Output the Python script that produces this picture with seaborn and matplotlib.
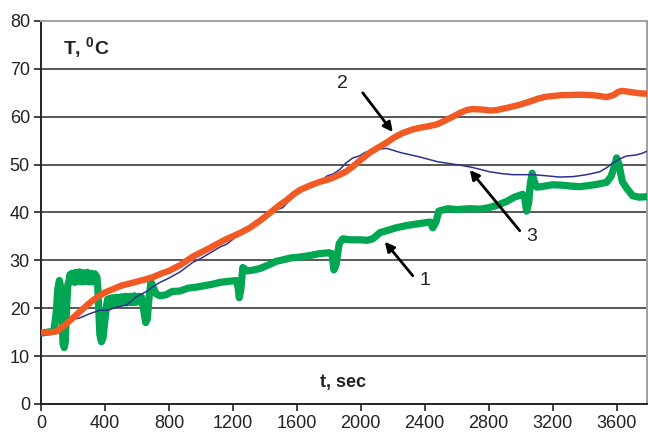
import numpy as np
import pandas as pd
import seaborn as sns
import matplotlib
matplotlib.use("Agg")
import matplotlib.pyplot as plt

# Curve 2: reactor wall temperature
t2 = [0, 60, 100, 150, 200, 250, 300, 350, 400, 450, 500, 570, 650, 700, 756, 800,
      870, 950, 1050, 1150, 1244, 1306, 1370, 1431, 1490, 1537, 1580, 1619, 1680,
      1744, 1806, 1869, 1910, 1950, 2000, 2056, 2110, 2162, 2210, 2262, 2320, 2369,
      2420, 2475, 2520, 2575, 2620, 2662, 2700, 2762, 2810, 2850, 2920, 2994, 3060,
      3110, 3162, 3250, 3369, 3450, 3500, 3537, 3580, 3610, 3637, 3680, 3740, 3790]
T2 = [15.0, 15.0, 15.2, 16.5, 18.0, 19.5, 21.0, 22.3, 23.3, 24.0, 24.7, 25.3, 26.0,
      26.5, 27.3, 27.8, 29.0, 30.8, 32.5, 34.3, 35.7, 36.8, 38.3, 39.9, 41.5, 42.6,
      43.8, 44.7, 45.6, 46.4, 47.0, 47.9, 48.6, 49.6, 51.0, 52.5, 53.6, 54.6, 55.7,
      56.6, 57.3, 57.7, 58.0, 58.4, 59.1, 60.0, 60.8, 61.4, 61.6, 61.5, 61.3, 61.4,
      61.9, 62.5, 63.2, 63.8, 64.2, 64.5, 64.6, 64.5, 64.3, 64.1, 64.5, 65.2, 65.4,
      65.2, 64.9, 64.8]

# Curve 3: gas temperature
t3 = [0, 80, 120, 180, 244, 300, 369, 420, 480, 537, 600, 660, 700, 744, 800, 870,
      950, 994, 1060, 1120, 1162, 1230, 1306, 1370, 1430, 1470, 1512, 1560, 1619,
      1680, 1744, 1787, 1830, 1869, 1910, 1950, 1990, 2030, 2100, 2162, 2250, 2369,
      2480, 2619, 2700, 2806, 2887, 2950, 3075, 3150, 3244, 3330, 3412, 3494, 3540,
      3575, 3620, 3662, 3720, 3762, 3790]
T3 = [15.0, 15.1, 16.0, 17.5, 18.0, 18.8, 19.6, 19.6, 20.3, 20.7, 22.5, 23.5, 24.5,
      25.4, 26.3, 27.6, 29.6, 30.3, 31.6, 32.8, 33.4, 35.2, 37.0, 38.6, 40.2, 40.6,
      41.0, 42.8, 44.2, 45.4, 46.2, 47.6, 48.1, 49.0, 50.4, 51.4, 51.8, 52.6, 53.2,
      53.4, 52.5, 51.6, 50.6, 49.9, 49.4, 48.5, 48.1, 47.9, 47.9, 47.7, 47.4, 47.5,
      47.9, 48.5, 49.4, 50.3, 51.2, 51.8, 52.0, 52.4, 52.8]

# Curve 1: sample temperature (noisy thermocouple record)
t1 = [0, 40, 80, 95, 105, 115, 125, 132, 138, 145, 152, 160, 168,
      175, 181, 187, 193, 199, 205, 211, 217, 223, 229, 235, 241, 247, 253, 259,
      265, 271, 277, 283, 289, 295, 301, 307, 313, 319, 325, 331, 337, 343, 349,
      355, 362, 368, 378, 388, 398, 410,
      417, 424, 431, 438, 445, 452, 459, 466, 473, 480, 487, 494, 501, 508, 515,
      522, 529, 536, 543, 550, 557, 564, 571, 578, 585, 592, 599, 606, 613, 620,
      627, 634, 645, 655, 665, 675, 688, 700, 720,
      744, 780, 820, 870, 920, 970, 1020, 1070, 1119, 1170, 1220, 1232, 1240, 1250,
      1262, 1290, 1330, 1369, 1420, 1470, 1512, 1560, 1620, 1680, 1740, 1800, 1820,
      1832, 1845, 1865, 1887, 1930, 1994, 2040, 2075, 2120, 2162, 2220, 2290, 2350,
      2410, 2435, 2450, 2470, 2488, 2544, 2600, 2680, 2744, 2800, 2860, 2912, 2960,
      3012, 3025, 3037, 3050, 3060, 3072, 3085, 3100, 3130, 3200, 3260, 3320, 3369,
      3420, 3480, 3537, 3565, 3585, 3600, 3615, 3635, 3662, 3700, 3740, 3790]
T1 = [14.8, 15.0, 15.2, 19.0, 24.0, 25.8, 24.0, 18.0, 12.5, 11.8, 13.0, 20.0, 25.0,
      25.6, 27.0, 25.5, 27.3, 25.8, 26.9, 25.4, 27.5, 25.9, 27.1, 25.6, 27.6, 25.8,
      27.2, 25.5, 27.4, 25.9, 27.0, 25.6, 27.5, 25.8, 27.1, 25.5, 27.3, 25.7, 27.0,
      25.5, 27.2, 25.8, 26.6, 24.5, 19.0, 14.5, 13.0, 13.8, 17.0, 20.5,
      21.9, 20.8, 22.0, 21.0, 22.2, 20.9, 22.1, 21.1, 22.3, 21.0, 22.2, 21.2, 22.4,
      21.1, 22.3, 21.2, 22.5, 21.1, 22.3, 21.3, 22.5, 21.2, 22.4, 21.3, 22.6, 21.2,
      22.4, 21.4, 22.5, 21.3, 22.4, 21.5, 19.0, 17.0, 17.8, 22.0, 25.5, 24.5, 23.0,
      22.6, 22.8, 23.5, 23.6, 24.2, 24.4, 24.7, 25.0, 25.4, 25.6, 25.8, 24.5, 22.2,
      24.0, 28.5, 27.8, 28.0, 28.3, 29.0, 29.8, 30.1, 30.5, 30.7, 31.0, 31.4, 31.6,
      31.4, 28.0, 29.0, 33.5, 34.5, 34.3, 34.3, 34.2, 34.5, 35.8, 36.2, 36.8, 37.3,
      37.6, 37.9, 38.0, 36.8, 38.0, 40.3, 40.8, 40.6, 40.8, 40.7, 41.0, 41.6, 42.3,
      43.2, 43.8, 43.0, 40.3, 42.0, 46.0, 48.2, 46.5, 45.3, 45.4, 45.8, 45.7, 45.5,
      45.4, 45.6, 45.9, 46.3, 47.5, 49.5, 51.4, 50.0, 46.5, 45.1, 43.5, 43.2, 43.3]

x_ticks = list(range(0, 3601, 400))
y_ticks = list(range(0, 81, 10))

sns.set_theme(style="white")
plt.rcParams["font.family"] = ["Liberation Sans", "DejaVu Sans"]
plt.rcParams["mathtext.fontset"] = "custom"
plt.rcParams["mathtext.rm"] = "Liberation Sans"
plt.rcParams["mathtext.bf"] = "Liberation Sans:bold"

fig = plt.figure(figsize=(6.48, 4.34), dpi=100)
ax = fig.add_axes([41 / 648, 1 - 404 / 434, 606 / 648, 383 / 434])

for yv in y_ticks[1:-1]:
    ax.axhline(yv, color="#2a2a2a", lw=1.1, zorder=1)

sns.lineplot(x=t1, y=T1, ax=ax, color="#00A651", lw=5.2, sort=False,
             estimator=None, zorder=3, solid_joinstyle="round")
sns.lineplot(x=t3, y=T3, ax=ax, color="#2E3192", lw=1.1, sort=False,
             estimator=None, zorder=4)
sns.lineplot(x=t2, y=T2, ax=ax, color="#F15A24", lw=4.6, sort=False,
             estimator=None, zorder=5, solid_joinstyle="round")

ax.set_xlim(0, 3790)
ax.set_ylim(0, 80)
ax.set_xticks(x_ticks)
ax.set_yticks(y_ticks)
ax.set_xlabel("")
ax.set_ylabel("")
ax.tick_params(axis="both", direction="out", length=5, width=1.2, color="#222222",
               labelsize=13, labelcolor="#222222", pad=3,
               bottom=True, left=True)

for side in ("left", "bottom"):
    ax.spines[side].set_color("#222222")
    ax.spines[side].set_linewidth(1.4)
for side in ("top", "right"):
    ax.spines[side].set_color("#a0a0a0")
    ax.spines[side].set_linewidth(1.4)

ax.text(0.036, 0.93, r"T, $^{\mathbf{0}}$C", transform=ax.transAxes,
        fontsize=14, fontweight="bold", color="#222222", ha="left", va="center")
ax.text(0.498, 0.057, "t, sec", transform=ax.transAxes,
        fontsize=13, fontweight="bold", color="#222222", ha="center", va="center")

arrow = dict(arrowstyle="-|>", color="black", lw=2.0, mutation_scale=14,
             shrinkA=0, shrinkB=0)
ax.annotate("", xy=(2200, 56.8), xytext=(2012, 65.0), arrowprops=arrow, zorder=6)
ax.annotate("", xy=(2150, 33.9), xytext=(2325, 26.8), arrowprops=arrow, zorder=6)
ax.annotate("", xy=(2681, 48.9), xytext=(2994, 36.2), arrowprops=arrow, zorder=6)
ax.text(1887, 66.9, "2", fontsize=14, color="#222222", ha="center", va="center")
ax.text(2400, 25.9, "1", fontsize=14, color="#222222", ha="center", va="center")
ax.text(3069, 34.9, "3", fontsize=14, color="#222222", ha="center", va="center")

fig.savefig("out.png", dpi=100)
